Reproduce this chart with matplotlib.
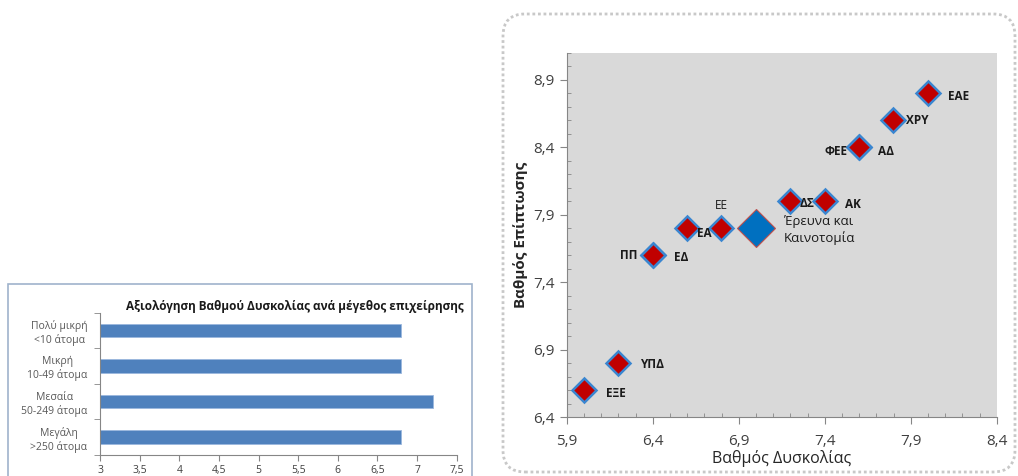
import matplotlib
matplotlib.use("Agg")
import matplotlib.pyplot as plt
from matplotlib.patches import FancyBboxPatch, Rectangle
from matplotlib.transforms import IdentityTransform
from matplotlib.ticker import MultipleLocator, FixedLocator, FuncFormatter

plt.rcParams['font.family'] = ['Open Sans', 'DejaVu Sans']

# ---- bar chart data ----
bar_categories = ["Πολύ μικρή\n<10 άτομα", "Μικρή\n10-49 άτομα", "Μεσαία\n50-249 άτομα", "Μεγάλη\n>250 άτομα"]
bar_values = [6.8, 6.8, 7.2, 6.8]
bar_title = "Αξιολόγηση Βαθμού Δυσκολίας ανά μέγεθος επιχείρησης"
bar_xticks = [3, 3.5, 4, 4.5, 5, 5.5, 6, 6.5, 7, 7.5]

# ---- scatter data ----
sc_labels = ["ΕΑΕ", "ΧΡΥ", "ΦΕΕ", "ΑΔ", "ΔΣ", "ΑΚ", "ΕΕ", "ΕΑ", "ΠΠ", "ΕΔ", "ΥΠΔ", "ΕΞΕ"]
sc_x = [8.0, 7.8, 7.6, 7.6, 7.2, 7.4, 6.8, 6.6, 6.4, 6.4, 6.2, 6.0]
sc_y = [8.8, 8.6, 8.4, 8.4, 8.0, 8.0, 7.8, 7.8, 7.6, 7.6, 6.8, 6.6]
hl_label = "Έρευνα και\nΚαινοτομία"
hl_x = [7.0]
hl_y = [7.8]
sc_ticks_x = [5.9, 6.4, 6.9, 7.4, 7.9, 8.4]
sc_ticks_y = [6.4, 6.9, 7.4, 7.9, 8.4, 8.9]

W, H = 1018, 476
fig = plt.figure(figsize=(W / 100, H / 100), dpi=100)

def fx(px):
    return px / W

def fy(py):
    return (H - py) / H

# panel frames
fig.patches.append(Rectangle((8, -5), 464, H - 284 + 5, transform=IdentityTransform(),
                             fill=False, edgecolor="#9fb3cc", linewidth=1.2))
fig.patches.append(FancyBboxPatch((503, H - 472), 512, 458,
                                  boxstyle="round,pad=0,rounding_size=22",
                                  transform=IdentityTransform(), facecolor="none",
                                  edgecolor="#c8c8c8", linewidth=2.0, linestyle=(0, (1, 1))))

# ---- bar chart ----
axb = fig.add_axes([fx(100), fy(455), fx(456.7) - fx(100), fy(312.7) - fy(455)])
pos = list(range(len(bar_categories)))
axb.barh(pos, bar_values, left=0, height=0.38, color="#4f81bd", edgecolor="#9bb7dd", linewidth=0.6)
axb.set_xlim(3, 7.5)
axb.set_ylim(len(bar_categories) - 0.5, -0.5)
axb.set_xticks(bar_xticks)
axb.xaxis.set_major_formatter(FuncFormatter(lambda v, p: ("%g" % v).replace(".", ",")))
axb.set_yticks(pos)
axb.set_yticklabels(bar_categories, multialignment="center", fontsize=7.5, color="#595959",
                    linespacing=1.25)
axb.yaxis.set_minor_locator(FixedLocator([-0.5, 0.5, 1.5, 2.5, 3.5]))
axb.tick_params(axis="y", which="major", length=0, pad=9)
axb.tick_params(axis="y", which="minor", length=4, color="#868686")
axb.tick_params(axis="x", which="major", length=4, color="#868686", labelsize=7.5,
                labelcolor="#404040", pad=3)
for s in ["top", "right"]:
    axb.spines[s].set_visible(False)
for s in ["left", "bottom"]:
    axb.spines[s].set_color("#868686")
fig.text(fx(295), fy(306.7), bar_title, ha="center", va="center", fontsize=8.5,
         fontweight="bold", color="#1a1a1a")

# ---- scatter chart ----
axs = fig.add_axes([fx(566.7), fy(417.3), fx(996.7) - fx(566.7), fy(52.7) - fy(417.3)])
axs.set_facecolor("#d9d9d9")
axs.plot(sc_x, sc_y, linestyle="none", marker="D", markersize=12.5,
         markerfacecolor="#c00000", markeredgecolor="#3a86d0", markeredgewidth=1.8, zorder=3)
axs.plot(hl_x, hl_y, linestyle="none", marker="D", markersize=19,
         markerfacecolor="#0070c0", markeredgecolor="#c0504d", markeredgewidth=0.8, zorder=3)
axs.set_xlim(5.9, 8.4)
axs.set_ylim(6.4, 9.1)
axs.set_xticks(sc_ticks_x)
axs.set_yticks(sc_ticks_y)
fmt = FuncFormatter(lambda v, p: ("%.1f" % v).replace(".", ","))
axs.xaxis.set_major_formatter(fmt)
axs.yaxis.set_major_formatter(fmt)
axs.xaxis.set_minor_locator(MultipleLocator(0.1))
axs.yaxis.set_minor_locator(MultipleLocator(0.1))
axs.tick_params(which="major", direction="out", length=5, color="#868686",
                labelsize=11, labelcolor="#404040")
axs.tick_params(axis="x", which="major", pad=7)
axs.tick_params(which="minor", direction="in", length=3, color="#868686")
for s in ["top", "right"]:
    axs.spines[s].set_visible(False)
for s in ["left", "bottom"]:
    axs.spines[s].set_color("#868686")
axs.set_xlabel("Βαθμός Δυσκολίας", fontsize=11.5, color="#262626", labelpad=1)
axs.set_ylabel("Βαθμός Επίπτωσης", fontsize=11, fontweight="bold", color="#262626", labelpad=4)

# label offsets in pixels
offsets = {
    "ΕΑΕ": (20, -3, "left"),
    "ΧΡΥ": (13, 0, "left"),
    "ΦΕΕ": (-12, -4, "right"),
    "ΑΔ": (19, -4, "left"),
    "ΔΣ": (9, -2, "left"),
    "ΑΚ": (20, -3, "left"),
    "ΕΕ": (0, 23, "center"),
    "ΕΑ": (10, -5, "left"),
    "ΠΠ": (-15, 0, "right"),
    "ΕΔ": (21, -2, "left"),
    "ΥΠΔ": (22, -1, "left"),
    "ΕΞΕ": (22, -3, "left"),
}
for lab, x, y in zip(sc_labels, sc_x, sc_y):
    dx, dy, ha = offsets[lab]
    bold = lab != "ΕΕ"
    axs.annotate(lab, (x, y), xytext=(dx, dy), textcoords="offset pixels", ha=ha, va="center",
                 fontsize=8.5, fontweight="bold" if bold else "normal", color="#1a1a1a", zorder=4)
axs.annotate(hl_label, (hl_x[0], hl_y[0]), xytext=(28, -2), textcoords="offset pixels",
             ha="left", va="center", fontsize=9.5, color="#1a1a1a", linespacing=1.3, zorder=4)

fig.savefig("out.png", dpi=100)
